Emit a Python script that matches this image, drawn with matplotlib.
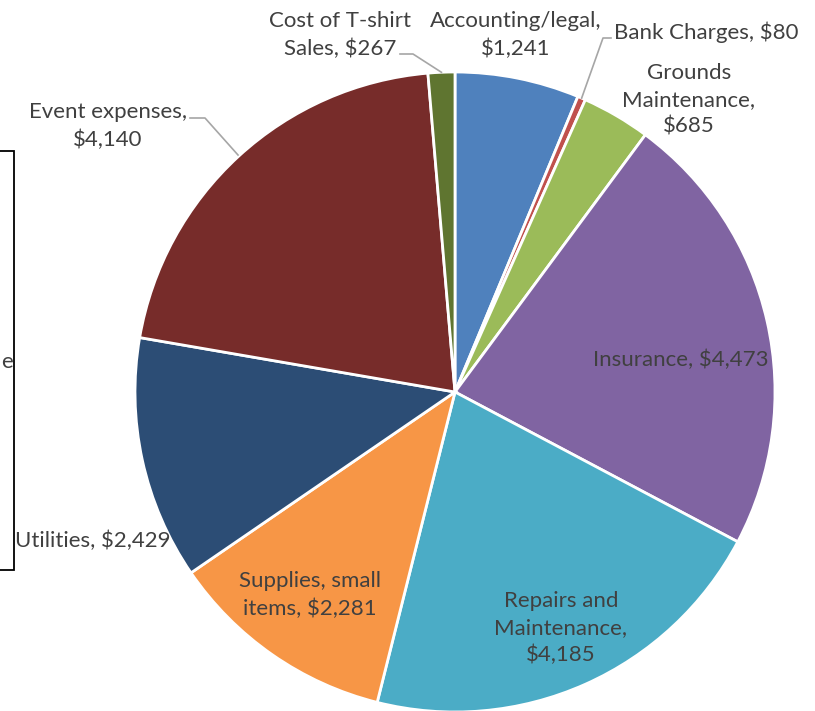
import numpy as np
import matplotlib.pyplot as plt
from matplotlib.patches import Rectangle

categories = ["Accounting/legal", "Bank Charges", "Grounds\nMaintenance",
              "Insurance", "Repairs and\nMaintenance", "Supplies, small\nitems",
              "Utilities", "Event expenses", "Cost of T-shirt\nSales"]
values = [1241, 80, 685, 4473, 4185, 2281, 2429, 4140, 267]
colors = ["#4F81BD", "#C0504D", "#9BBB59", "#8064A2", "#4BACC6",
          "#F79646", "#2C4D75", "#772C2A", "#5F7530"]

# label text: "name, $value" with Excel-like line breaks
label_text = [
    "Accounting/legal,\n$1,241",
    "Bank Charges, $80",
    "Grounds\nMaintenance,\n$685",
    "Insurance, $4,473",
    "Repairs and\nMaintenance,\n$4,185",
    "Supplies, small\nitems, $2,281",
    "Utilities, $2,429",
    "Event expenses,\n$4,140",
    "Cost of T-shirt\nSales, $267",
]

W, H = 815, 711
cx, cy, R = 455, 392, 320
txt_col = "#404040"
fs = 16

fig = plt.figure(figsize=(W / 100, H / 100), dpi=100)
ax = fig.add_axes([0, 0, 1, 1])

# y axis is inverted, so counterclock=True draws clockwise on screen
wedges, _ = ax.pie(values, colors=colors, startangle=-90, counterclock=True,
                   center=(cx, cy), radius=R, frame=True,
                   wedgeprops=dict(edgecolor="white", linewidth=2))
ax.set_xlim(0, W)
ax.set_ylim(H, 0)
ax.set_aspect("equal")
ax.axis("off")

# label positions (pixels) and alignment
pos = [
    (516, 35, "center"),
    (614, 32, "left"),
    (689, 100, "center"),
    (681, 360, "center"),
    (561, 628, "center"),
    (310, 595, "center"),
    (93, 541, "center"),
    (108, 126, "center"),
    (340, 35, "center"),
]
for t, (x, y, ha) in zip(label_text, pos):
    ax.text(x, y, t, ha=ha, va="center", fontsize=fs, color=txt_col,
            family="Lato", linespacing=1.42)

def edge_pt(w, frac=1.0):
    th = np.deg2rad((w.theta1 + w.theta2) / 2)
    return cx + R * frac * np.cos(th), cy + R * frac * np.sin(th)

lc = "#A6A6A6"
# Bank Charges leader
bx, by = edge_pt(wedges[1])
ax.plot([611, 603, bx], [38, 38, by], color=lc, lw=1.2)
# Cost of T-shirt Sales leader
tx, ty = edge_pt(wedges[8])
ax.plot([400, 413, tx], [54, 54, ty], color=lc, lw=1.2)
# Event expenses leader
ax.plot([190, 205, 238], [118, 118, 155], color=lc, lw=1.2)

# partially visible legend box at left edge
ax.add_patch(Rectangle((-5, 151), 19, 419, fill=False, edgecolor="black", lw=1.3))
ax.text(1, 362, "e", ha="left", va="center", fontsize=fs, color=txt_col, family="Lato")

fig.savefig("out.png", dpi=100)
